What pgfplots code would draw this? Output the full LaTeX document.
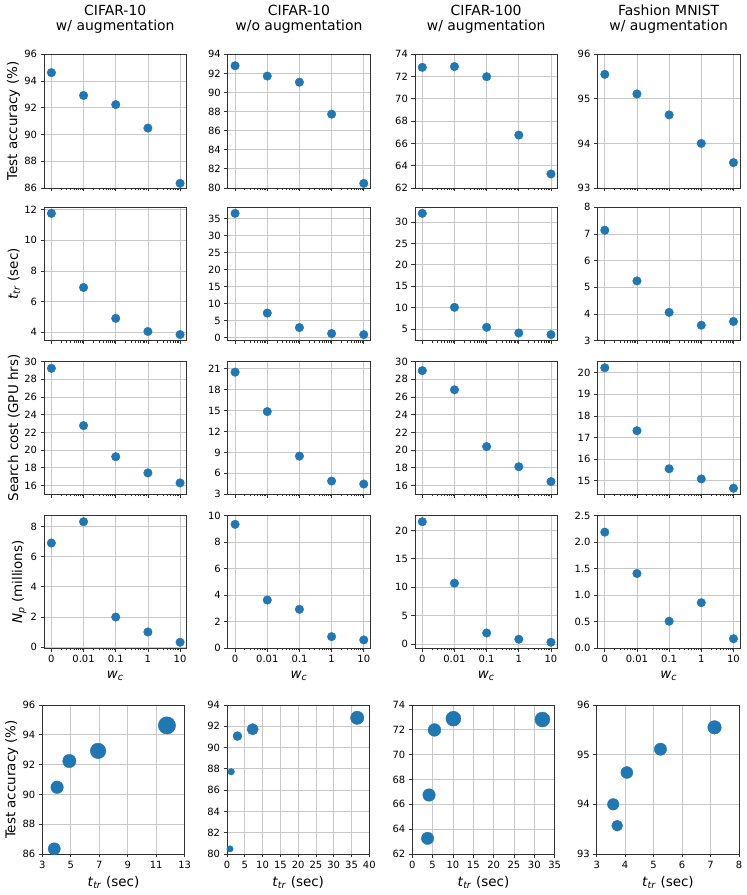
\documentclass[border=0pt]{standalone}
\usepackage{fontspec}
\setmainfont{DejaVu Sans}
\usepackage{pgfplots}
\pgfplotsset{compat=1.18}
\definecolor{c0}{RGB}{31,119,180}
\definecolor{gridc}{RGB}{200,200,200}
\pgfplotsset{
  base/.style={scale only axis, anchor=north west,
    axis on top, clip=false, grid=major,
    grid style={line width=0.8bp, draw=gridc},
    axis line style={line width=0.8bp, black!80},
    tick align=outside, tick pos=left,
    major tick length=3.5bp, minor tick length=2bp,
    tick style={black!80},
    major tick style={line width=0.8bp},
    minor tick style={line width=0.6bp},
    tick label style={font=\fontsize{10}{12}\selectfont, black},
    /pgf/number format/assume math mode=true,
    label style={font=\fontsize{13.5}{16}\selectfont, black},
    every axis y label/.append style={at={(ticklabel cs:0.5,-2.5bp)}},
    every axis x label/.append style={at={(ticklabel cs:0.5,1bp)}},
    every axis title/.style={at={(0.5,1)}, anchor=south, yshift=20.5bp, align=center,
      inner sep=0pt, font=\fontsize{14}{14.8}\selectfont, black},
  },
  wc/.style={width=142.5bp, xmin=-0.23, xmax=4.2, xtick={0,1,2,3,4}, xticklabels={},
    minor xtick={0.301,0.477,0.602,0.699,0.778,0.845,0.903,0.954,
      1.301,1.477,1.602,1.699,1.778,1.845,1.903,1.954,
      2.301,2.477,2.602,2.699,2.778,2.845,2.903,2.954,
      3.301,3.477,3.602,3.699,3.778,3.845,3.903,3.954}},
  wclab/.style={xticklabels={0,0.01,0.1,1,10}, xlabel={\textit{w}\textsubscript{\textit{c}}}},
  r5/.style={width=142.3bp, height=149bp, xlabel={\textit{t}\textsubscript{\textit{tr}} (sec)}},
  pts/.style={only marks, mark=*, mark size=4.3, color=c0},
  bub/.style={scatter, only marks, mark=*, color=c0,
    scatter/use mapped color={draw=c0, fill=c0},
    visualization depends on={\thisrow{r}\as\rr},
    scatter/@pre marker code/.append style={/tikz/mark size=\rr}},
}
\begin{document}
\begin{tikzpicture}
\path[use as bounding box] (0bp,0bp) rectangle (747bp,895bp);

% ---------------- Row 1: test accuracy
\begin{axis}[base, wc, at={(44bp,840.7bp)}, height=133.7bp, ymin=86, ymax=96, ytick={86,88,...,96},
  ylabel={Test accuracy (\%)}, title={CIFAR-10\\w/ augmentation}]
\addplot[pts] coordinates {(0,94.63) (1,92.92) (2,92.24) (3,90.48) (4,86.35)};
\end{axis}
\begin{axis}[base, wc, at={(227.7bp,840.7bp)}, height=133.7bp, ymin=80, ymax=94, ytick={80,82,...,94},
  title={CIFAR-10\\w/o augmentation}]
\addplot[pts] coordinates {(0,92.8) (1,91.72) (2,91.08) (3,87.73) (4,80.48)};
\end{axis}
\begin{axis}[base, wc, at={(414.9bp,840.7bp)}, height=133.7bp, ymin=62, ymax=74, ytick={62,64,...,74},
  title={CIFAR-100\\w/ augmentation}]
\addplot[pts] coordinates {(0,72.83) (1,72.9) (2,71.99) (3,66.75) (4,63.26)};
\end{axis}
\begin{axis}[base, wc, at={(597.4bp,840.7bp)}, height=133.7bp, ymin=93, ymax=96, ytick={93,94,95,96},
  title={Fashion MNIST\\w/ augmentation}]
\addplot[pts] coordinates {(0,95.55) (1,95.11) (2,94.64) (3,94.0) (4,93.57)};
\end{axis}

% ---------------- Row 2: t_tr
\begin{axis}[base, wc, at={(44bp,687.7bp)}, height=133.4bp, ymin=3.44, ymax=12.16, ytick={4,6,...,12},
  ylabel={\textit{t}\textsubscript{\textit{tr}} (sec)}]
\addplot[pts] coordinates {(0,11.76) (1,6.92) (2,4.9) (3,4.04) (4,3.84)};
\end{axis}
\begin{axis}[base, wc, at={(227.7bp,687.7bp)}, height=133.4bp, ymin=-0.94, ymax=38.39, ytick={0,5,...,35}]
\addplot[pts] coordinates {(0,36.6) (1,7.2) (2,2.93) (3,1.18) (4,0.85)};
\end{axis}
\begin{axis}[base, wc, at={(414.9bp,687.7bp)}, height=133.4bp, ymin=2.33, ymax=33.41, ytick={5,10,...,30}]
\addplot[pts] coordinates {(0,32.0) (1,10.1) (2,5.45) (3,4.12) (4,3.76)};
\end{axis}
\begin{axis}[base, wc, at={(597.4bp,687.7bp)}, height=133.4bp, ymin=3, ymax=8, ytick={3,4,...,8}]
\addplot[pts] coordinates {(0,7.14) (1,5.24) (2,4.06) (3,3.58) (4,3.72)};
\end{axis}

% ---------------- Row 3: search cost
\begin{axis}[base, wc, at={(44bp,533.3bp)}, height=132.6bp, ymin=15, ymax=30, ytick={16,18,...,30},
  ylabel={Search cost (GPU hrs)}]
\addplot[pts] coordinates {(0,29.25) (1,22.77) (2,19.25) (3,17.42) (4,16.29)};
\end{axis}
\begin{axis}[base, wc, at={(227.7bp,533.3bp)}, height=132.6bp, ymin=3, ymax=22, ytick={3,6,...,21}]
\addplot[pts] coordinates {(0,20.5) (1,14.85) (2,8.47) (3,4.9) (4,4.47)};
\end{axis}
\begin{axis}[base, wc, at={(414.9bp,533.3bp)}, height=132.6bp, ymin=15, ymax=30, ytick={16,18,...,30}]
\addplot[pts] coordinates {(0,28.99) (1,26.82) (2,20.4) (3,18.12) (4,16.44)};
\end{axis}
\begin{axis}[base, wc, at={(597.4bp,533.3bp)}, height=132.6bp, ymin=14.38, ymax=20.51, ytick={15,16,...,20}]
\addplot[pts] coordinates {(0,20.23) (1,17.32) (2,15.56) (3,15.09) (4,14.66)};
\end{axis}

% ---------------- Row 4: N_p
\begin{axis}[base, wc, wclab, at={(44bp,379.3bp)}, height=132.6bp, ymin=-0.07, ymax=8.71, ytick={0,2,...,8},
  ylabel={\textit{N}\textsubscript{\textit{p}} (millions)}]
\addplot[pts] coordinates {(0,6.9) (1,8.31) (2,2.0) (3,1.01) (4,0.33)};
\end{axis}
\begin{axis}[base, wc, wclab, at={(227.7bp,379.3bp)}, height=132.6bp, ymin=0, ymax=10, ytick={0,2,...,10}]
\addplot[pts] coordinates {(0,9.35) (1,3.64) (2,2.94) (3,0.88) (4,0.63)};
\end{axis}
\begin{axis}[base, wc, wclab, at={(414.9bp,379.3bp)}, height=132.6bp, ymin=-0.71, ymax=22.58, ytick={0,5,...,20}]
\addplot[pts] coordinates {(0,21.52) (1,10.73) (2,1.98) (3,0.88) (4,0.35)};
\end{axis}
\begin{axis}[base, wc, wclab, at={(597.4bp,379.3bp)}, height=132.6bp, ymin=0, ymax=2.5, ytick={0,0.5,...,2.5},
  yticklabel style={/pgf/number format/.cd, fixed, fixed zerofill, precision=1}]
\addplot[pts] coordinates {(0,2.19) (1,1.41) (2,0.51) (3,0.86) (4,0.18)};
\end{axis}

% ---------------- Row 5: accuracy vs t_tr, size ~ search cost
\begin{axis}[base, r5, at={(42.3bp,190bp)}, xmin=3, xmax=13, xtick={3,5,...,13},
  ymin=86, ymax=96, ytick={86,88,...,96}, ylabel={Test accuracy (\%)}]
\addplot[bub] table[x=x, y=y, row sep=\\] {x y r\\ 11.76 94.63 8.7\\ 6.92 92.92 7.8\\ 4.9 92.24 6.7\\ 4.04 90.48 6.3\\ 3.84 86.35 6.1\\};
\end{axis}
\begin{axis}[base, r5, at={(227bp,190bp)}, xmin=0, xmax=40, xtick={0,5,...,40},
  ymin=80, ymax=94, ytick={80,82,...,94}]
\addplot[bub] table[x=x, y=y, row sep=\\] {x y r\\ 36.6 92.8 6.7\\ 7.2 91.72 5.7\\ 2.93 91.08 4.5\\ 1.18 87.73 3.3\\ 0.85 80.48 3.2\\};
\end{axis}
\begin{axis}[base, r5, at={(412.3bp,190bp)}, xmin=0, xmax=35, xtick={0,5,...,35},
  ymin=62, ymax=74, ytick={62,64,...,74}]
\addplot[bub] table[x=x, y=y, row sep=\\] {x y r\\ 32.0 72.83 7.5\\ 10.1 72.9 7.5\\ 5.45 71.99 6.4\\ 4.12 66.75 6.3\\ 3.76 63.26 6.2\\};
\end{axis}
\begin{axis}[base, r5, at={(596.7bp,190bp)}, xmin=3, xmax=8, xtick={3,4,...,8},
  ymin=93, ymax=96, ytick={93,94,95,96}]
\addplot[bub] table[x=x, y=y, row sep=\\] {x y r\\ 7.14 95.55 6.8\\ 5.24 95.11 6.2\\ 4.06 94.64 6.0\\ 3.58 94.0 5.8\\ 3.72 93.57 5.5\\};
\end{axis}
\end{tikzpicture}
\end{document}
